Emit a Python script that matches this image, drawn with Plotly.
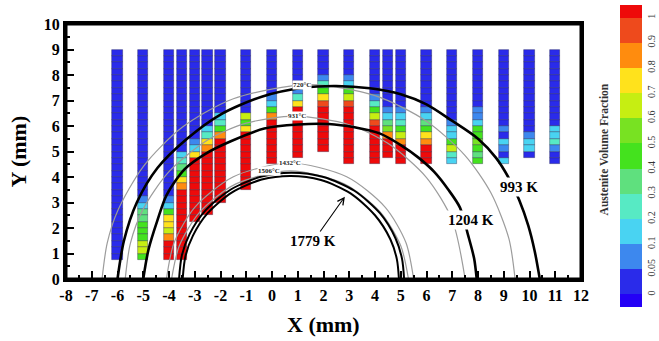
import numpy as np
import plotly.graph_objects as go

# ---------------- data ----------------
# colour-bar levels of austenite volume fraction
level_values = [0, 0.05, 0.1, 0.2, 0.3, 0.4, 0.5, 0.6, 0.7, 0.8, 0.9, 1.0]
level_labels = ["0", "0.05", "0.1", "0.2", "0.3", "0.4", "0.5", "0.6", "0.7", "0.8", "0.9", "1"]

# sampled columns: x position (mm) and y of the lowest cell edge (mm)
col_x = [-6, -5, -4, -3.5, -3, -2.5, -2, -1, 0, 1, 2, 3, 4, 4.5, 5, 6, 7, 8, 9, 10, 11]
col_bottom = [0.75, 0.75, 0.75, 0.75, 2.25, 2.5, 3.0, 3.5, 4.5, 4.75, 5.0,
              4.5, 4.5, 4.75, 4.5, 4.5, 4.5, 4.5, 4.5, 4.75, 4.5]
cell_h = 0.25  # cell pitch (mm)

# cell fractions, run-length encoded (fraction, number of cells), bottom -> top
col_runs = [
    [(0.02, 33)],                                                                   # -6
    [(0.45, 1), (0.65, 2), (0.45, 3), (0.35, 2), (0.15, 1), (0.07, 1), (0.02, 23)],  # -5
    [(1.0, 3), (0.85, 1), (0.65, 1), (0.75, 2), (0.45, 1), (0.15, 1), (0.07, 1), (0.02, 23)],  # -4
    [(1.0, 11), (0.85, 1), (0.75, 1), (0.45, 1), (0.35, 1), (0.25, 1), (0.15, 1), (0.02, 16)],  # -3.5
    [(1.0, 10), (0.75, 1), (0.15, 1), (0.07, 1), (0.02, 14)],                          # -3
    [(1.0, 10), (0.85, 1), (0.75, 1), (0.25, 1), (0.15, 1), (0.02, 12)],               # -2.5
    [(1.0, 10), (0.85, 1), (0.45, 1), (0.25, 1), (0.15, 1), (0.02, 10)],               # -2
    [(1.0, 9), (0.75, 1), (0.45, 1), (0.65, 1), (0.02, 10)],                           # -1
    [(1.0, 7), (0.85, 1), (0.45, 1), (0.15, 1), (0.07, 1), (0.02, 7)],                 # 0
    [(1.0, 8), (0.75, 1), (0.25, 1), (0.07, 1), (0.02, 6)],                            # 1
    [(1.0, 7), (0.95, 1), (0.75, 1), (0.45, 1), (0.25, 1), (0.07, 1), (0.02, 4)],      # 2
    [(1.0, 9), (0.95, 1), (0.65, 1), (0.45, 1), (0.15, 1), (0.07, 1), (0.02, 4)],      # 3
    [(1.0, 6), (0.95, 1), (0.65, 1), (0.45, 1), (0.25, 1), (0.07, 1), (0.02, 7)],      # 4
    [(1.0, 3), (0.85, 1), (0.55, 1), (0.35, 1), (0.15, 1), (0.07, 1), (0.02, 9)],      # 4.5
    [(1.0, 3), (0.85, 1), (0.65, 1), (0.45, 1), (0.25, 1), (0.15, 1), (0.07, 1), (0.02, 9)],  # 5
    [(1.0, 3), (0.85, 1), (0.75, 1), (0.45, 1), (0.35, 1), (0.15, 1), (0.07, 1), (0.02, 9)],  # 6
    [(0.15, 1), (0.25, 1), (0.65, 1), (0.45, 1), (0.15, 2), (0.07, 1), (0.02, 11)],    # 7
    [(0.45, 1), (0.35, 1), (0.45, 1), (0.55, 1), (0.45, 2), (0.15, 1), (0.07, 2), (0.02, 9)],  # 8
    [(0.15, 1), (0.02, 1), (0.07, 1), (0.15, 1), (0.02, 1), (0.07, 1), (0.02, 12)],    # 9
    [(0.02, 1), (0.15, 2), (0.07, 1), (0.02, 13)],                                     # 10
    [(0.02, 2), (0.07, 1), (0.25, 1), (0.15, 2), (0.02, 12)],                          # 11
]

# isotherms of the model (black)
iso993_x = [-6.0, -5.75, -5.25, -4.45, -3.3, -2.0, -0.4, 1.2, 2.5, 3.8, 5.0, 6.0, 7.0, 8.0,
            8.7, 9.2, 9.6, 9.95, 10.2, 10.4]
iso993_y = [0.0, 1.5, 3.0, 4.35, 5.5, 6.45, 7.15, 7.5, 7.57, 7.48, 7.25, 6.85, 6.2, 5.5,
            4.75, 3.95, 3.1, 2.1, 1.1, 0.0]
iso1204_x = [-5.0, -4.8, -4.45, -4.09, -3.4, -2.6, -1.6, -0.3, 1.0, 2.2, 3.2, 4.2, 5.0, 5.7,
             6.3, 6.85, 7.3, 7.62, 7.85, 7.95]
iso1204_y = [0.0, 1.14, 2.3, 3.3, 4.3, 4.9, 5.4, 5.9, 6.06, 6.08, 5.95, 5.7, 5.25, 4.75,
             4.2, 3.5, 2.8, 1.7, 0.8, 0.0]
iso1779a_x = [-3.61, -3.5, -3.2, -2.6, -1.6, -0.4, 0.76, 2.0, 3.2, 4.2, 4.8, 5.05, 5.13]
iso1779a_y = [0.0, 0.93, 1.76, 2.67, 3.51, 4.02, 4.17, 4.0, 3.46, 2.57, 1.59, 0.79, 0.0]
iso1779b_x = [-3.47, -3.36, -3.07, -2.5, -1.55, -0.4, 0.73, 1.9, 3.05, 4.0, 4.6, 4.85, 4.93]
iso1779b_y = [0.0, 0.9, 1.7, 2.58, 3.4, 3.9, 4.04, 3.88, 3.36, 2.5, 1.55, 0.77, 0.0]

# measured isotherms (grey), degC
grey720_x = [-6.6, -6.4, -6.0, -5.0, -3.5, -1.5, 1.42, 4.0, 6.0, 7.5, 8.5, 9.2, 9.44]
grey720_y = [0.0, 1.41, 2.66, 4.41, 5.94, 7.07, 7.62, 7.19, 6.19, 4.84, 3.38, 1.58, 0.0]
grey931_x = [-5.7, -5.5, -5.0, -4.0, -2.5, -1.0, 0.9, 3.0, 4.5, 6.0, 7.0, 7.5]
grey931_y = [0.0, 1.4, 2.75, 4.21, 5.45, 6.11, 6.39, 6.05, 5.32, 3.98, 2.31, 0.0]
grey1432_x = [-4.1, -3.8, -3.0, -1.5, 0.7, 2.9, 4.4, 5.2, 5.5]
grey1432_y = [0.0, 1.43, 2.81, 4.01, 4.55, 4.01, 2.81, 1.43, 0.0]
grey1506_x = [-3.9, -3.6, -2.8, -1.4, 0.7, 2.8, 4.2, 5.0, 5.3]
grey1506_y = [0.0, 1.3, 2.63, 3.73, 4.24, 3.73, 2.63, 1.3, 0.0]

grey_labels = ["720°C", "931°C", "1432°C", "1506°C"]
grey_label_x = [1.18, 0.99, 0.7, -0.1]
grey_label_y = [7.62, 6.39, 4.55, 4.24]

iso_labels = ["993 K", "1204 K"]
iso_label_x = [9.59, 7.73]
iso_label_y = [3.59, 2.31]
label1779 = "1779 K"
label1779_xy = (1.61, 1.49)
arrow1779_xy = (2.83, 3.23)

x_ticks = list(range(-8, 13))
y_ticks = list(range(0, 11))
x_ticktext = [str(v) for v in x_ticks]
y_ticktext = [str(v) for v in y_ticks]

# ---------------- styles ----------------
band_colors = ['#2400F6', '#2A2BEA', '#3D88EE', '#49D3F2', '#57EAC4', '#5FE07E',
               '#44E21E', '#78E222', '#C6EE12', '#FFE21C', '#FF8C0E', '#EE4A1C', '#EE0A0A']
SERIF = "Liberation Serif"

band_edges = [-0.5] + list(range(12)) + [11.5]
cmin, cmax = -0.5, 11.5
colorscale = []
for i, c in enumerate(band_colors):
    t0 = (band_edges[i] - cmin) / (cmax - cmin)
    t1 = (band_edges[i + 1] - cmin) / (cmax - cmin)
    colorscale.append([t0, c])
    colorscale.append([t1, c])

# ---------------- build cells ----------------
cx, cbase, cval = [], [], []
for x, b, runs in zip(col_x, col_bottom, col_runs):
    k = 0
    for v, n in runs:
        for _ in range(n):
            cx.append(x)
            cbase.append(b + k * cell_h)
            cval.append(v)
            k += 1
cval = np.array(cval)
cidx = np.interp(cval, level_values, np.arange(len(level_values)))
cidx = np.where(cval >= 1.0, 11.25, cidx)

fig = go.Figure()
fig.add_trace(go.Bar(
    x=cx, y=[cell_h] * len(cx), base=cbase, width=0.4,
    marker=dict(color=cidx, colorscale=colorscale, cmin=cmin, cmax=cmax,
                line=dict(color='rgba(20,20,60,0.5)', width=0.7),
                showscale=True,
                colorbar=dict(x=1.0757, xanchor='left', y=0.482, yanchor='middle',
                              len=302, lenmode='pixels', thickness=22, thicknessmode='pixels',
                              ypad=0, xpad=0, outlinewidth=0,
                              tickvals=list(range(12)), ticktext=level_labels,
                              tickangle=-90, ticks='',
                              tickfont=dict(family=SERIF, size=10, color='#333'))),
    hoverinfo='skip', showlegend=False))

grey_style = dict(color='#9c9c9c', width=1.2, shape='spline', smoothing=0.8)
for gx, gy in [(grey720_x, grey720_y), (grey931_x, grey931_y),
               (grey1432_x, grey1432_y), (grey1506_x, grey1506_y)]:
    fig.add_trace(go.Scatter(x=gx, y=gy, mode='lines', line=grey_style,
                             hoverinfo='skip', showlegend=False))

for bx, by, w in [(iso993_x, iso993_y, 2.6), (iso1204_x, iso1204_y, 2.6),
                  (iso1779a_x, iso1779a_y, 2.0), (iso1779b_x, iso1779b_y, 2.0)]:
    fig.add_trace(go.Scatter(x=bx, y=by, mode='lines',
                             line=dict(color='black', width=w, shape='spline', smoothing=0.8),
                             hoverinfo='skip', showlegend=False))

annotations = []
for t, x, y in zip(grey_labels, grey_label_x, grey_label_y):
    annotations.append(dict(x=x, y=y, text=t, showarrow=False, bgcolor='white',
                            borderpad=0, font=dict(family=SERIF, size=7, color='#222', weight='bold')))
for t, x, y in zip(iso_labels, iso_label_x, iso_label_y):
    annotations.append(dict(x=x, y=y, text=t, showarrow=False, bgcolor='white',
                            borderpad=1, font=dict(family=SERIF, size=15, color='black', weight='bold')))
annotations.append(dict(x=arrow1779_xy[0], y=arrow1779_xy[1], ax=label1779_xy[0], ay=label1779_xy[1],
                        axref='x', ayref='y', xref='x', yref='y', text=label1779,
                        showarrow=True, arrowhead=5, arrowsize=1.2, arrowwidth=1.1, arrowcolor='black',
                        bgcolor='white', borderpad=1,
                        font=dict(family=SERIF, size=15, color='black', weight='bold')))
annotations.append(dict(xref='paper', yref='paper', x=0.5, y=-0.18, xanchor='center', yanchor='middle',
                        text='X (mm)', showarrow=False,
                        font=dict(family=SERIF, size=22, color='black', weight='bold')))
annotations.append(dict(xref='paper', yref='paper', x=-0.093, y=0.5, xanchor='center', yanchor='middle',
                        text='Y (mm)', textangle=-90,
                        showarrow=False, font=dict(family=SERIF, size=22, color='black', weight='bold')))
annotations.append(dict(xref='paper', yref='paper', x=1.0455, y=0.51, xanchor='center', yanchor='middle',
                        text='Austenite Volume Fraction',
                        textangle=-90, showarrow=False,
                        font=dict(family=SERIF, size=11.5, color='#333', weight='bold')))

axis_common = dict(showgrid=False, zeroline=False, showline=True, mirror=True,
                   linecolor='black', linewidth=3, ticks='inside', ticklen=8, tickwidth=2,
                   tickcolor='black',
                   tickfont=dict(family=SERIF, size=16, color='black', weight='bold'),
                   minor=dict(ticks='inside', ticklen=4, tickwidth=1.5, tickcolor='black', dtick=0.5))

fig.update_layout(
    width=659, height=341,
    margin=dict(l=66, r=78, t=24, b=62, autoexpand=False),
    paper_bgcolor='white', plot_bgcolor='white',
    barmode='overlay', bargap=0,
    xaxis=dict(range=[-8, 12], tickvals=x_ticks, ticktext=x_ticktext, **axis_common),
    yaxis=dict(range=[0, 10], tickvals=y_ticks, ticktext=y_ticktext, **axis_common),
    annotations=annotations,
    shapes=[dict(type='rect', xref='paper', yref='paper', x0=0, x1=1, y0=0, y1=1,
                 line=dict(color='black', width=3), layer='above')],
)

fig.write_html("out.html", config={'displayModeBar': False},
               post_script="document.body.style.margin='0px';")
